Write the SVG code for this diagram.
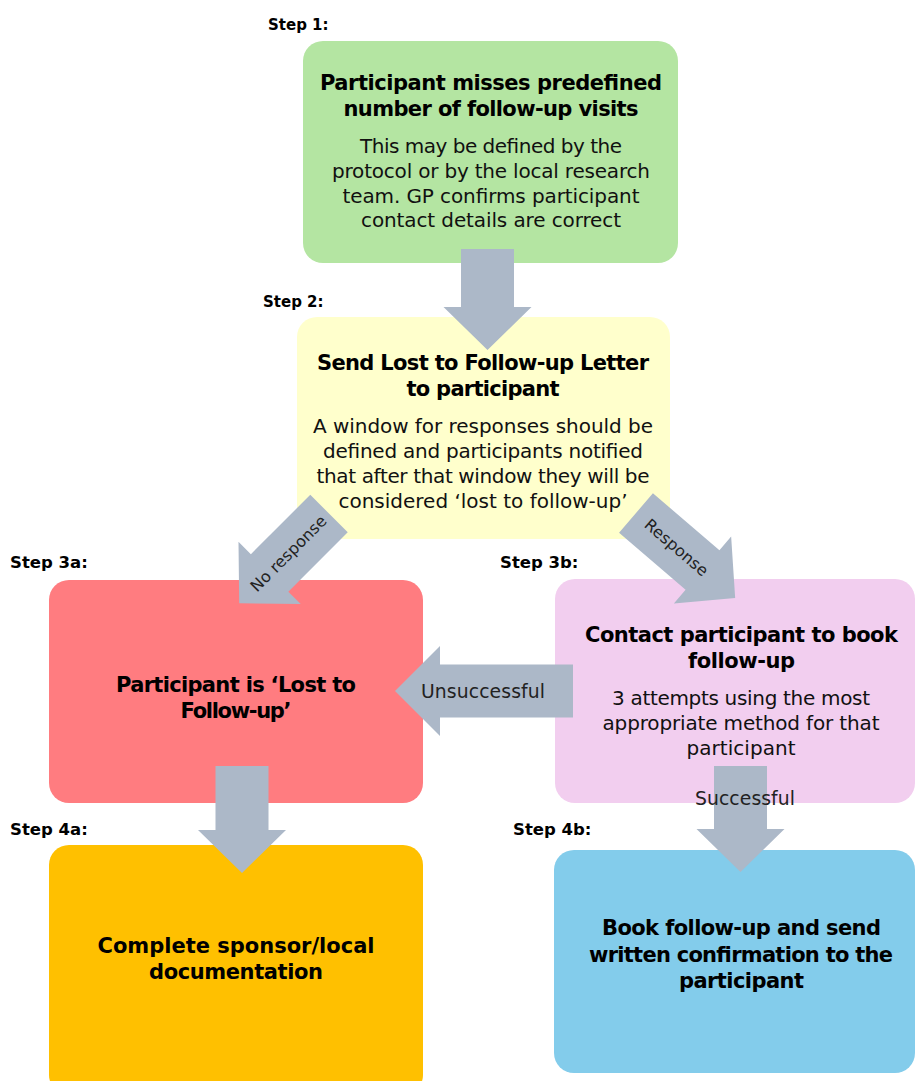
<svg xmlns="http://www.w3.org/2000/svg" width="915" height="1081" viewBox="0 0 915 1081">
<style>
text{font-family:"DejaVu Sans","Liberation Sans",sans-serif;fill:#000}
.h{font-weight:bold;font-size:21px;text-anchor:middle}
.b{font-size:20px;text-anchor:middle;fill:#111}
.st{font-weight:bold;font-size:16.5px}
.st2{font-weight:bold;font-size:15px}
.lb{font-size:18.8px;text-anchor:middle;fill:#222}
.dl{font-size:16px;text-anchor:middle;dominant-baseline:central;fill:#222}
.arr{fill:#ACB8C8}
</style>
<rect width="915" height="1081" fill="#fff"/>

<g id="step1">
<rect x="303" y="41" width="375" height="222" rx="20" fill="#B4E5A2"/>
<text class="st2" x="268" y="30">Step 1:</text>
<text class="h" x="491" y="90" textLength="342">Participant misses predefined</text>
<text class="h" x="491" y="116" textLength="295">number of follow-up visits</text>
<text class="b" x="491" y="153" textLength="262">This may be defined by the</text>
<text class="b" x="491" y="178" textLength="318">protocol or by the local research</text>
<text class="b" x="491" y="203" textLength="297">team. GP confirms participant</text>
<text class="b" x="491" y="227" textLength="260">contact details are correct</text>
</g>

<g id="step2">
<rect x="297" y="317" width="373" height="222" rx="20" fill="#FFFFCC"/>
<text class="st2" x="263" y="307">Step 2:</text>
<text class="h" x="483" y="370" textLength="332">Send Lost to Follow-up Letter</text>
<text class="h" x="483" y="396" textLength="153">to participant</text>
<text class="b" x="483" y="433" textLength="340">A window for responses should be</text>
<text class="b" x="483" y="458" textLength="320">defined and participants notified</text>
<text class="b" x="483" y="483" textLength="333">that after that window they will be</text>
<text class="b" x="483" y="508">considered ‘lost to follow-up’</text>
</g>

<g id="step3a">
<rect x="49" y="580" width="374" height="223" rx="20" fill="#FF7C80"/>
<text class="st" x="10" y="568">Step 3a:</text>
<text class="h" x="236" y="692" textLength="240">Participant is ‘Lost to</text>
<text class="h" x="236" y="718" textLength="111">Follow-up’</text>
</g>

<g id="step3b">
<rect x="555" y="579" width="360" height="224" rx="20" fill="#F2CEEF"/>
<text class="st" x="500" y="568">Step 3b:</text>
<text class="h" x="741.5" y="642" textLength="313">Contact participant to book</text>
<text class="h" x="741.5" y="668" textLength="107">follow-up</text>
<text class="b" x="741" y="705" textLength="258">3 attempts using the most</text>
<text class="b" x="741" y="730" textLength="277">appropriate method for that</text>
<text class="b" x="741" y="755" textLength="109">participant</text>
</g>

<g id="step4a">
<rect x="49" y="845" width="374" height="250" rx="20" fill="#FFC000"/>
<text class="st" x="10" y="835">Step 4a:</text>
<text class="h" x="236" y="953" textLength="277">Complete sponsor/local</text>
<text class="h" x="236" y="979" textLength="174">documentation</text>
</g>

<g id="step4b">
<rect x="554" y="850" width="361" height="223" rx="20" fill="#83CCEB"/>
<text class="st" x="513" y="835">Step 4b:</text>
<text class="h" x="741.5" y="935" textLength="279">Book follow-up and send</text>
<text class="h" x="741" y="962" textLength="304">written confirmation to the</text>
<text class="h" x="741.5" y="988" textLength="125">participant</text>
</g>

<g id="connectors">
<polygon class="arr" points="461,249 514,249 514,307 531.5,307 487.5,350 443.5,307 461,307"/>
<path class="arr" transform="translate(329,513.5) rotate(135)" d="M0,-26.5 L84,-26.5 L84,-44 L127,0 L84,44 L84,26.5 L0,26.5 Z"/>
<path class="arr" transform="translate(636,513) rotate(40.6)" d="M0,-26 L87.6,-26 L87.6,-44 L130.6,0 L87.6,44 L87.6,26 L0,26 Z"/>
<polygon class="arr" points="573,664.5 573,717.5 440,717.5 440,736 395,691 440,646 440,664.5"/>
<polygon class="arr" points="215.5,766 268.5,766 268.5,830 286,830 242,873 198,830 215.5,830"/>
<polygon class="arr" points="714,766 767,766 767,829 784.5,829 740.5,872 696.5,829 714,829"/>
<text class="dl" transform="translate(288.5,553.5) rotate(-45)" textLength="100">No response</text>
<text class="dl" transform="translate(676.5,547.5) rotate(40.6)" textLength="78">Response</text>
<text class="lb" x="483" y="698" textLength="124">Unsuccessful</text>
<text class="lb" x="745" y="805" textLength="100">Successful</text>
</g>
</svg>
